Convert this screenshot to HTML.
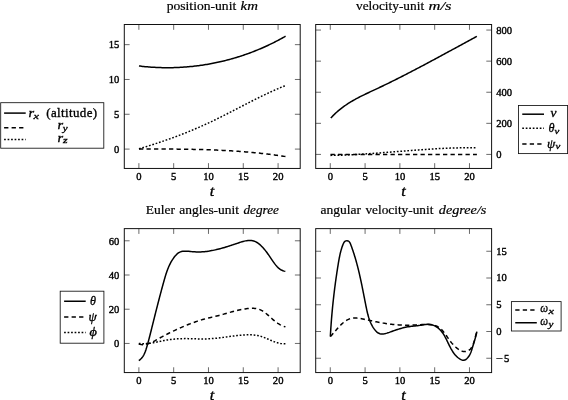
<!DOCTYPE html>
<html><head><meta charset="utf-8"><title>figure</title>
<style>html,body{margin:0;padding:0;background:#fff}svg{display:block;will-change:transform}text{font-family:"Liberation Serif",serif;fill:#000;stroke:#000;stroke-width:0.38px}.tk{font-size:10.3px}.tt{font-size:12.6px;stroke-width:0.2px}.it{font-style:italic}.lg{font-size:13px;stroke-width:0.33px}.tl{font-size:13.6px;stroke-width:0.3px}.sub{font-size:8.9px;stroke-width:0.32px}</style></head><body>
<svg width="568" height="400" viewBox="0 0 568 400">
<rect width="568" height="400" fill="#fff"/>
<text class="tk" x="136.33" y="179.85" textLength="5.30" lengthAdjust="spacingAndGlyphs">0</text>
<text class="tk" x="171.13" y="179.85" textLength="5.30" lengthAdjust="spacingAndGlyphs">5</text>
<text class="tk" x="203.28" y="179.85" textLength="10.60" lengthAdjust="spacingAndGlyphs">10</text>
<text class="tk" x="238.08" y="179.85" textLength="10.60" lengthAdjust="spacingAndGlyphs">15</text>
<text class="tk" x="272.88" y="179.85" textLength="10.60" lengthAdjust="spacingAndGlyphs">20</text>
<text class="tk" x="114.10" y="152.60" textLength="5.30" lengthAdjust="spacingAndGlyphs">0</text>
<text class="tk" x="114.10" y="117.78" textLength="5.30" lengthAdjust="spacingAndGlyphs">5</text>
<text class="tk" x="108.80" y="82.97" textLength="10.60" lengthAdjust="spacingAndGlyphs">10</text>
<text class="tk" x="108.80" y="48.15" textLength="10.60" lengthAdjust="spacingAndGlyphs">15</text>
<path d="M138.88 168.45 v-5.30 M138.88 24.50 v5.30 M173.68 168.45 v-5.30 M173.68 24.50 v5.30 M208.48 168.45 v-5.30 M208.48 24.50 v5.30 M243.28 168.45 v-5.30 M243.28 24.50 v5.30 M278.08 168.45 v-5.30 M278.08 24.50 v5.30 M124.30 149.10 h5.30 M300.20 149.10 h-5.30 M124.30 114.28 h5.30 M300.20 114.28 h-5.30 M124.30 79.47 h5.30 M300.20 79.47 h-5.30 M124.30 44.65 h5.30 M300.20 44.65 h-5.30" stroke="#5a5a5a" stroke-width="0.90" fill="none"/>
<rect x="124.30" y="24.50" width="175.90" height="143.95" fill="none" stroke="#111" stroke-width="1.00"/>
<text class="tl it" x="209.75" y="195.80" textLength="4.5" lengthAdjust="spacingAndGlyphs">t</text>
<text class="tk" x="327.73" y="179.85" textLength="5.30" lengthAdjust="spacingAndGlyphs">0</text>
<text class="tk" x="362.53" y="179.85" textLength="5.30" lengthAdjust="spacingAndGlyphs">5</text>
<text class="tk" x="394.68" y="179.85" textLength="10.60" lengthAdjust="spacingAndGlyphs">10</text>
<text class="tk" x="429.48" y="179.85" textLength="10.60" lengthAdjust="spacingAndGlyphs">15</text>
<text class="tk" x="464.28" y="179.85" textLength="10.60" lengthAdjust="spacingAndGlyphs">20</text>
<text class="tk" x="496.20" y="157.92" textLength="5.30" lengthAdjust="spacingAndGlyphs">0</text>
<text class="tk" x="496.20" y="126.83" textLength="15.90" lengthAdjust="spacingAndGlyphs">200</text>
<text class="tk" x="496.20" y="95.74" textLength="15.90" lengthAdjust="spacingAndGlyphs">400</text>
<text class="tk" x="496.20" y="64.65" textLength="15.90" lengthAdjust="spacingAndGlyphs">600</text>
<text class="tk" x="496.20" y="33.56" textLength="15.90" lengthAdjust="spacingAndGlyphs">800</text>
<path d="M330.28 168.45 v-5.30 M330.28 24.50 v5.30 M365.08 168.45 v-5.30 M365.08 24.50 v5.30 M399.88 168.45 v-5.30 M399.88 24.50 v5.30 M434.68 168.45 v-5.30 M434.68 24.50 v5.30 M469.48 168.45 v-5.30 M469.48 24.50 v5.30 M315.70 154.42 h5.30 M491.60 154.42 h-5.30 M315.70 123.33 h5.30 M491.60 123.33 h-5.30 M315.70 92.24 h5.30 M491.60 92.24 h-5.30 M315.70 61.15 h5.30 M491.60 61.15 h-5.30 M315.70 30.06 h5.30 M491.60 30.06 h-5.30" stroke="#5a5a5a" stroke-width="0.90" fill="none"/>
<rect x="315.70" y="24.50" width="175.90" height="143.95" fill="none" stroke="#111" stroke-width="1.00"/>
<text class="tl it" x="401.15" y="195.80" textLength="4.5" lengthAdjust="spacingAndGlyphs">t</text>
<text class="tk" x="136.33" y="383.97" textLength="5.30" lengthAdjust="spacingAndGlyphs">0</text>
<text class="tk" x="171.13" y="383.97" textLength="5.30" lengthAdjust="spacingAndGlyphs">5</text>
<text class="tk" x="203.28" y="383.97" textLength="10.60" lengthAdjust="spacingAndGlyphs">10</text>
<text class="tk" x="238.08" y="383.97" textLength="10.60" lengthAdjust="spacingAndGlyphs">15</text>
<text class="tk" x="272.88" y="383.97" textLength="10.60" lengthAdjust="spacingAndGlyphs">20</text>
<text class="tk" x="114.10" y="347.45" textLength="5.30" lengthAdjust="spacingAndGlyphs">0</text>
<text class="tk" x="108.80" y="313.23" textLength="10.60" lengthAdjust="spacingAndGlyphs">20</text>
<text class="tk" x="108.80" y="279.01" textLength="10.60" lengthAdjust="spacingAndGlyphs">40</text>
<text class="tk" x="108.80" y="244.79" textLength="10.60" lengthAdjust="spacingAndGlyphs">60</text>
<path d="M138.88 372.57 v-5.30 M138.88 228.62 v5.30 M173.68 372.57 v-5.30 M173.68 228.62 v5.30 M208.48 372.57 v-5.30 M208.48 228.62 v5.30 M243.28 372.57 v-5.30 M243.28 228.62 v5.30 M278.08 372.57 v-5.30 M278.08 228.62 v5.30 M124.30 343.45 h5.30 M300.20 343.45 h-5.30 M124.30 309.23 h5.30 M300.20 309.23 h-5.30 M124.30 275.01 h5.30 M300.20 275.01 h-5.30 M124.30 240.79 h5.30 M300.20 240.79 h-5.30" stroke="#5a5a5a" stroke-width="0.90" fill="none"/>
<rect x="124.30" y="228.62" width="175.90" height="143.95" fill="none" stroke="#111" stroke-width="1.00"/>
<text class="tl it" x="209.75" y="399.92" textLength="4.5" lengthAdjust="spacingAndGlyphs">t</text>
<text class="tk" x="327.73" y="383.97" textLength="5.30" lengthAdjust="spacingAndGlyphs">0</text>
<text class="tk" x="362.53" y="383.97" textLength="5.30" lengthAdjust="spacingAndGlyphs">5</text>
<text class="tk" x="394.68" y="383.97" textLength="10.60" lengthAdjust="spacingAndGlyphs">10</text>
<text class="tk" x="429.48" y="383.97" textLength="10.60" lengthAdjust="spacingAndGlyphs">15</text>
<text class="tk" x="464.28" y="383.97" textLength="10.60" lengthAdjust="spacingAndGlyphs">20</text>
<text class="tk" x="496.20" y="361.50" textLength="6.9" lengthAdjust="spacingAndGlyphs">−</text>
<text class="tk" x="504.00" y="361.50" textLength="5.30" lengthAdjust="spacingAndGlyphs">5</text>
<text class="tk" x="496.20" y="334.75" textLength="5.30" lengthAdjust="spacingAndGlyphs">0</text>
<text class="tk" x="496.20" y="308.00" textLength="5.30" lengthAdjust="spacingAndGlyphs">5</text>
<text class="tk" x="496.20" y="281.25" textLength="10.60" lengthAdjust="spacingAndGlyphs">10</text>
<text class="tk" x="496.20" y="254.50" textLength="10.60" lengthAdjust="spacingAndGlyphs">15</text>
<path d="M330.28 372.57 v-5.30 M330.28 228.62 v5.30 M365.08 372.57 v-5.30 M365.08 228.62 v5.30 M399.88 372.57 v-5.30 M399.88 228.62 v5.30 M434.68 372.57 v-5.30 M434.68 228.62 v5.30 M469.48 372.57 v-5.30 M469.48 228.62 v5.30 M315.70 358.25 h5.30 M491.60 358.25 h-5.30 M315.70 331.50 h5.30 M491.60 331.50 h-5.30 M315.70 304.75 h5.30 M491.60 304.75 h-5.30 M315.70 278.00 h5.30 M491.60 278.00 h-5.30 M315.70 251.25 h5.30 M491.60 251.25 h-5.30" stroke="#5a5a5a" stroke-width="0.90" fill="none"/>
<rect x="315.70" y="228.62" width="175.90" height="143.95" fill="none" stroke="#111" stroke-width="1.00"/>
<text class="tl it" x="401.15" y="399.92" textLength="4.5" lengthAdjust="spacingAndGlyphs">t</text>
<path d="M138.98 65.96 L140.19 66.11 L141.41 66.25 L142.62 66.38 L143.84 66.51 L145.05 66.63 L146.27 66.74 L147.48 66.85 L148.70 66.95 L149.91 67.05 L151.13 67.13 L152.35 67.22 L153.57 67.29 L154.78 67.36 L156.00 67.42 L157.22 67.48 L158.44 67.53 L159.66 67.57 L160.87 67.61 L162.09 67.64 L163.31 67.67 L164.53 67.68 L165.75 67.70 L166.96 67.70 L168.18 67.70 L169.40 67.70 L170.62 67.68 L171.84 67.66 L173.05 67.64 L174.27 67.60 L175.49 67.57 L176.70 67.52 L177.92 67.47 L179.13 67.41 L180.35 67.35 L181.56 67.28 L182.78 67.21 L183.99 67.12 L185.21 67.04 L186.42 66.94 L187.63 66.84 L188.84 66.73 L190.05 66.62 L191.27 66.50 L192.48 66.38 L193.68 66.24 L194.89 66.11 L196.10 65.96 L197.31 65.81 L198.51 65.66 L199.72 65.49 L200.92 65.32 L202.13 65.15 L203.33 64.97 L204.53 64.78 L205.73 64.59 L206.93 64.39 L208.13 64.18 L209.32 63.97 L210.52 63.75 L211.72 63.53 L212.91 63.30 L214.10 63.06 L215.29 62.82 L216.48 62.57 L217.67 62.32 L218.86 62.06 L220.05 61.79 L221.23 61.52 L222.42 61.24 L223.60 60.96 L224.78 60.67 L225.96 60.37 L227.13 60.07 L228.31 59.76 L229.48 59.45 L230.66 59.13 L231.83 58.80 L233.00 58.47 L234.17 58.13 L235.33 57.78 L236.50 57.43 L237.66 57.08 L238.82 56.71 L239.98 56.34 L241.14 55.97 L242.29 55.59 L243.45 55.20 L244.60 54.81 L245.75 54.41 L246.89 54.01 L248.04 53.60 L249.18 53.18 L250.32 52.76 L251.46 52.33 L252.60 51.90 L253.74 51.46 L254.87 51.01 L256.00 50.56 L257.13 50.11 L258.25 49.64 L259.38 49.17 L260.50 48.70 L261.62 48.22 L262.73 47.73 L263.85 47.24 L264.96 46.74 L266.07 46.24 L267.17 45.73 L268.28 45.21 L269.38 44.69 L270.48 44.16 L271.58 43.63 L272.67 43.09 L273.76 42.55 L274.85 41.99 L275.93 41.44 L277.02 40.88 L278.10 40.31 L279.17 39.73 L280.25 39.16 L281.32 38.57 L282.39 37.98 L283.45 37.38 L284.52 36.78 L285.57 36.17" fill="none" stroke="#000" stroke-width="1.50"/>
<path d="M139.01 148.97 L140.22 148.97 L141.43 148.97 L142.64 148.98 L143.85 148.98 L145.07 148.98 L146.28 148.98 L147.49 148.98 L148.70 148.99 L149.92 148.99 L151.13 148.99 L152.34 148.99 L153.56 148.99 L154.77 149.00 L155.98 149.00 L157.20 149.00 L158.41 149.01 L159.62 149.01 L160.84 149.02 L162.05 149.02 L163.26 149.03 L164.48 149.03 L165.69 149.04 L166.91 149.04 L168.12 149.05 L169.33 149.06 L170.55 149.07 L171.76 149.08 L172.98 149.09 L174.19 149.10 L175.40 149.11 L176.62 149.12 L177.83 149.13 L179.05 149.15 L180.26 149.16 L181.47 149.18 L182.69 149.19 L183.90 149.21 L185.12 149.23 L186.33 149.25 L187.55 149.27 L188.76 149.29 L189.97 149.31 L191.19 149.33 L192.40 149.35 L193.62 149.38 L194.83 149.41 L196.04 149.43 L197.26 149.46 L198.47 149.49 L199.69 149.52 L200.90 149.55 L202.11 149.59 L203.33 149.62 L204.54 149.66 L205.75 149.70 L206.97 149.73 L208.18 149.78 L209.39 149.82 L210.61 149.86 L211.82 149.91 L213.03 149.95 L214.25 150.00 L215.46 150.05 L216.67 150.10 L217.89 150.15 L219.10 150.21 L220.31 150.26 L221.52 150.32 L222.73 150.38 L223.95 150.44 L225.16 150.51 L226.37 150.57 L227.58 150.64 L228.79 150.71 L230.01 150.78 L231.22 150.85 L232.43 150.92 L233.64 151.00 L234.85 151.08 L236.06 151.16 L237.27 151.24 L238.48 151.33 L239.69 151.42 L240.90 151.50 L242.11 151.60 L243.32 151.69 L244.53 151.79 L245.74 151.88 L246.95 151.98 L248.16 152.09 L249.37 152.19 L250.57 152.30 L251.78 152.41 L252.99 152.52 L254.20 152.64 L255.40 152.75 L256.61 152.87 L257.82 153.00 L259.03 153.12 L260.23 153.25 L261.44 153.38 L262.64 153.51 L263.85 153.65 L265.06 153.78 L266.26 153.93 L267.47 154.07 L268.67 154.21 L269.88 154.36 L271.08 154.52 L272.28 154.67 L273.49 154.83 L274.69 154.99 L275.89 155.15 L277.10 155.32 L278.30 155.49 L279.50 155.66 L280.70 155.84 L281.91 156.02 L283.11 156.20 L284.31 156.38 L285.51 156.57" fill="none" stroke="#000" stroke-width="1.50" stroke-dasharray="4.3 3.2"/>
<path d="M138.95 148.80 L140.11 148.45 L141.28 148.11 L142.44 147.76 L143.60 147.41 L144.76 147.06 L145.92 146.70 L147.08 146.35 L148.24 145.99 L149.40 145.62 L150.56 145.26 L151.72 144.89 L152.87 144.52 L154.03 144.15 L155.18 143.78 L156.33 143.40 L157.49 143.02 L158.64 142.64 L159.79 142.26 L160.94 141.87 L162.09 141.48 L163.23 141.09 L164.38 140.70 L165.53 140.30 L166.67 139.90 L167.81 139.50 L168.96 139.09 L170.10 138.69 L171.24 138.28 L172.38 137.86 L173.52 137.45 L174.65 137.03 L175.79 136.61 L176.92 136.19 L178.06 135.76 L179.19 135.33 L180.32 134.90 L181.45 134.46 L182.58 134.02 L183.71 133.58 L184.83 133.14 L185.96 132.69 L187.08 132.24 L188.20 131.79 L189.33 131.34 L190.45 130.88 L191.56 130.42 L192.68 129.95 L193.80 129.48 L194.91 129.01 L196.03 128.54 L197.14 128.06 L198.25 127.58 L199.36 127.10 L200.47 126.61 L201.57 126.12 L202.68 125.63 L203.78 125.14 L204.88 124.64 L205.98 124.14 L207.08 123.63 L208.18 123.12 L209.28 122.61 L210.37 122.10 L211.46 121.58 L212.56 121.06 L213.65 120.53 L214.74 120.01 L215.82 119.48 L216.91 118.94 L218.00 118.41 L219.08 117.87 L220.17 117.34 L221.25 116.80 L222.33 116.25 L223.41 115.71 L224.49 115.16 L225.57 114.61 L226.65 114.07 L227.73 113.52 L228.81 112.96 L229.88 112.41 L230.96 111.86 L232.04 111.30 L233.11 110.75 L234.19 110.19 L235.27 109.64 L236.34 109.08 L237.42 108.52 L238.49 107.97 L239.57 107.41 L240.64 106.85 L241.72 106.30 L242.80 105.74 L243.87 105.18 L244.95 104.63 L246.03 104.07 L247.10 103.52 L248.18 102.97 L249.26 102.42 L250.34 101.87 L251.42 101.32 L252.50 100.77 L253.58 100.22 L254.66 99.68 L255.74 99.13 L256.82 98.59 L257.91 98.05 L258.99 97.52 L260.08 96.98 L261.17 96.45 L262.26 95.92 L263.35 95.39 L264.44 94.87 L265.53 94.35 L266.62 93.83 L267.72 93.31 L268.82 92.80 L269.91 92.29 L271.01 91.79 L272.12 91.28 L273.22 90.78 L274.32 90.29 L275.43 89.80 L276.54 89.31 L277.65 88.83 L278.76 88.35 L279.88 87.88 L281.00 87.41 L282.12 86.94 L283.24 86.48 L284.36 86.03 L285.49 85.58" fill="none" stroke="#000" stroke-width="1.50" stroke-dasharray="1.7 1.8"/>
<path d="M330.77 118.08 L331.62 117.16 L332.48 116.26 L333.35 115.37 L334.23 114.50 L335.13 113.65 L336.03 112.81 L336.94 111.99 L337.87 111.18 L338.80 110.39 L339.74 109.62 L340.69 108.86 L341.65 108.11 L342.61 107.37 L343.59 106.65 L344.57 105.95 L345.57 105.25 L346.57 104.57 L347.57 103.90 L348.59 103.24 L349.61 102.60 L350.64 101.97 L351.67 101.34 L352.72 100.73 L353.77 100.13 L354.82 99.54 L355.88 98.95 L356.95 98.38 L358.02 97.81 L359.09 97.25 L360.17 96.70 L361.25 96.15 L362.34 95.61 L363.43 95.08 L364.52 94.55 L365.62 94.02 L366.71 93.50 L367.81 92.98 L368.92 92.46 L370.02 91.94 L371.12 91.43 L372.22 90.91 L373.33 90.40 L374.43 89.88 L375.53 89.37 L376.63 88.85 L377.73 88.33 L378.83 87.81 L379.93 87.29 L381.03 86.76 L382.13 86.23 L383.23 85.71 L384.32 85.18 L385.42 84.65 L386.51 84.11 L387.61 83.58 L388.70 83.05 L389.79 82.51 L390.88 81.97 L391.97 81.43 L393.06 80.89 L394.15 80.35 L395.24 79.81 L396.33 79.26 L397.42 78.71 L398.50 78.17 L399.59 77.62 L400.68 77.07 L401.76 76.52 L402.85 75.97 L403.93 75.41 L405.01 74.86 L406.10 74.30 L407.18 73.75 L408.26 73.19 L409.34 72.63 L410.42 72.07 L411.50 71.51 L412.58 70.95 L413.66 70.39 L414.74 69.82 L415.82 69.26 L416.89 68.70 L417.97 68.13 L419.05 67.56 L420.12 67.00 L421.20 66.43 L422.28 65.86 L423.35 65.29 L424.43 64.72 L425.50 64.15 L426.57 63.57 L427.65 63.00 L428.72 62.43 L429.80 61.86 L430.87 61.28 L431.94 60.71 L433.01 60.13 L434.09 59.56 L435.16 58.98 L436.23 58.40 L437.30 57.83 L438.37 57.25 L439.44 56.67 L440.51 56.09 L441.58 55.51 L442.65 54.93 L443.72 54.35 L444.79 53.77 L445.86 53.20 L446.93 52.61 L448.00 52.03 L449.07 51.45 L450.14 50.87 L451.21 50.29 L452.28 49.71 L453.35 49.13 L454.42 48.55 L455.49 47.97 L456.56 47.39 L457.63 46.81 L458.70 46.22 L459.76 45.64 L460.83 45.06 L461.90 44.48 L462.97 43.90 L464.04 43.32 L465.11 42.74 L466.18 42.16 L467.25 41.58 L468.32 41.00 L469.39 40.42 L470.46 39.84 L471.53 39.26 L472.60 38.68 L473.67 38.10 L474.74 37.52 L475.81 36.94 L476.88 36.37" fill="none" stroke="#000" stroke-width="1.50"/>
<path d="M330.50 155.38 L331.71 155.36 L332.92 155.34 L334.14 155.32 L335.35 155.29 L336.56 155.27 L337.77 155.24 L338.98 155.21 L340.19 155.17 L341.41 155.13 L342.62 155.09 L343.83 155.05 L345.04 155.00 L346.25 154.96 L347.46 154.91 L348.67 154.86 L349.88 154.80 L351.09 154.75 L352.30 154.69 L353.51 154.63 L354.72 154.56 L355.93 154.50 L357.14 154.43 L358.35 154.37 L359.56 154.30 L360.77 154.23 L361.98 154.15 L363.19 154.08 L364.40 154.00 L365.61 153.92 L366.82 153.85 L368.03 153.77 L369.24 153.68 L370.45 153.60 L371.66 153.52 L372.86 153.43 L374.07 153.35 L375.28 153.26 L376.49 153.17 L377.70 153.08 L378.91 152.99 L380.12 152.90 L381.33 152.81 L382.53 152.72 L383.74 152.62 L384.95 152.53 L386.16 152.44 L387.37 152.34 L388.58 152.25 L389.78 152.15 L390.99 152.05 L392.20 151.96 L393.41 151.86 L394.62 151.77 L395.83 151.67 L397.03 151.57 L398.24 151.48 L399.45 151.38 L400.66 151.28 L401.87 151.19 L403.07 151.09 L404.28 151.00 L405.49 150.90 L406.70 150.80 L407.91 150.71 L409.12 150.62 L410.32 150.52 L411.53 150.43 L412.74 150.34 L413.95 150.25 L415.16 150.15 L416.37 150.06 L417.58 149.98 L418.78 149.89 L419.99 149.80 L421.20 149.71 L422.41 149.63 L423.62 149.55 L424.83 149.46 L426.04 149.38 L427.25 149.30 L428.46 149.22 L429.66 149.14 L430.87 149.07 L432.08 148.99 L433.29 148.92 L434.50 148.85 L435.71 148.78 L436.92 148.71 L438.13 148.65 L439.34 148.58 L440.55 148.52 L441.76 148.46 L442.97 148.40 L444.18 148.35 L445.39 148.29 L446.60 148.24 L447.81 148.19 L449.02 148.14 L450.23 148.10 L451.44 148.06 L452.66 148.02 L453.87 147.98 L455.08 147.94 L456.29 147.91 L457.50 147.88 L458.71 147.85 L459.92 147.83 L461.14 147.81 L462.35 147.79 L463.56 147.77 L464.77 147.76 L465.99 147.75 L467.20 147.75 L468.41 147.74 L469.62 147.74 L470.84 147.75 L472.05 147.75 L473.26 147.76 L474.48 147.78 L475.69 147.79 L476.91 147.81" fill="none" stroke="#000" stroke-width="1.50" stroke-dasharray="1.7 1.8"/>
<path d="M330.50 154.40 L476.90 154.40" fill="none" stroke="#000" stroke-width="1.50" stroke-dasharray="4.3 3.2"/>
<path d="M138.84 360.66 L139.82 359.90 L140.72 359.08 L141.54 358.21 L142.29 357.28 L142.96 356.30 L143.58 355.28 L144.14 354.23 L144.64 353.14 L145.11 352.02 L145.54 350.88 L145.94 349.72 L146.31 348.56 L146.67 347.38 L147.01 346.20 L147.35 345.03 L147.68 343.85 L148.01 342.68 L148.33 341.50 L148.64 340.33 L148.96 339.16 L149.26 337.98 L149.57 336.81 L149.87 335.64 L150.16 334.47 L150.46 333.30 L150.75 332.13 L151.05 330.96 L151.34 329.78 L151.63 328.61 L151.92 327.44 L152.21 326.27 L152.50 325.10 L152.80 323.92 L153.09 322.75 L153.38 321.58 L153.67 320.40 L153.97 319.23 L154.26 318.06 L154.55 316.88 L154.85 315.71 L155.14 314.54 L155.44 313.36 L155.73 312.19 L156.03 311.01 L156.33 309.84 L156.63 308.67 L156.93 307.49 L157.22 306.32 L157.53 305.14 L157.83 303.97 L158.13 302.80 L158.43 301.62 L158.74 300.45 L159.04 299.28 L159.35 298.10 L159.65 296.93 L159.96 295.76 L160.27 294.59 L160.58 293.41 L160.90 292.24 L161.21 291.07 L161.52 289.90 L161.84 288.73 L162.16 287.56 L162.48 286.39 L162.80 285.22 L163.12 284.05 L163.44 282.89 L163.77 281.72 L164.09 280.55 L164.42 279.39 L164.76 278.22 L165.10 277.06 L165.44 275.90 L165.80 274.74 L166.17 273.59 L166.55 272.45 L166.94 271.31 L167.35 270.17 L167.78 269.05 L168.23 267.93 L168.69 266.82 L169.18 265.71 L169.70 264.62 L170.24 263.54 L170.81 262.47 L171.40 261.41 L172.03 260.36 L172.69 259.33 L173.38 258.31 L174.11 257.30 L174.88 256.32 L175.69 255.38 L176.54 254.49 L177.44 253.68 L178.38 252.96 L179.38 252.35 L180.43 251.86 L181.53 251.51 L182.69 251.28 L183.88 251.17 L185.10 251.13 L186.34 251.17 L187.60 251.25 L188.85 251.36 L190.10 251.48 L191.33 251.60 L192.54 251.69 L193.75 251.78 L194.94 251.85 L196.13 251.90 L197.31 251.94 L198.49 251.95 L199.68 251.94 L200.87 251.91 L202.06 251.85 L203.26 251.77 L204.47 251.67 L205.68 251.54 L206.89 251.39 L208.11 251.22 L209.32 251.04 L210.54 250.83 L211.75 250.61 L212.96 250.37 L214.16 250.12 L215.36 249.86 L216.56 249.58 L217.74 249.30 L218.92 249.00 L220.08 248.70 L221.24 248.39 L222.39 248.07 L223.53 247.74 L224.66 247.41 L225.80 247.07 L226.92 246.72 L228.05 246.37 L229.18 246.01 L230.30 245.64 L231.44 245.27 L232.57 244.90 L233.71 244.52 L234.86 244.13 L236.02 243.74 L237.19 243.35 L238.37 242.95 L239.56 242.55 L240.76 242.16 L241.97 241.79 L243.17 241.45 L244.39 241.13 L245.59 240.87 L246.80 240.65 L247.99 240.50 L249.18 240.43 L250.35 240.43 L251.50 240.52 L252.64 240.71 L253.75 241.01 L254.84 241.42 L255.91 241.92 L256.95 242.50 L257.96 243.17 L258.95 243.90 L259.91 244.69 L260.84 245.53 L261.75 246.41 L262.62 247.32 L263.47 248.25 L264.28 249.20 L265.06 250.14 L265.81 251.09 L266.54 252.04 L267.25 252.99 L267.93 253.95 L268.61 254.91 L269.28 255.88 L269.94 256.85 L270.61 257.84 L271.27 258.84 L271.95 259.85 L272.63 260.87 L273.34 261.89 L274.06 262.90 L274.80 263.90 L275.57 264.88 L276.37 265.82 L277.19 266.72 L278.06 267.58 L278.96 268.37 L279.91 269.09 L280.89 269.74 L281.93 270.30 L283.02 270.76 L284.17 271.12 L285.37 271.37" fill="none" stroke="#000" stroke-width="1.50"/>
<path d="M138.75 343.99 L140.00 344.33 L141.22 344.55 L142.42 344.66 L143.61 344.66 L144.79 344.57 L145.95 344.40 L147.10 344.14 L148.24 343.81 L149.37 343.42 L150.48 342.97 L151.59 342.48 L152.69 341.95 L153.79 341.38 L154.88 340.79 L155.96 340.18 L157.05 339.57 L158.12 338.96 L159.20 338.35 L160.28 337.75 L161.36 337.16 L162.43 336.58 L163.51 336.00 L164.58 335.43 L165.66 334.87 L166.74 334.31 L167.81 333.76 L168.89 333.22 L169.97 332.68 L171.05 332.15 L172.14 331.62 L173.23 331.09 L174.32 330.58 L175.41 330.06 L176.51 329.55 L177.61 329.05 L178.71 328.55 L179.82 328.06 L180.93 327.57 L182.04 327.08 L183.16 326.60 L184.28 326.13 L185.41 325.66 L186.53 325.20 L187.67 324.74 L188.80 324.30 L189.94 323.86 L191.08 323.42 L192.22 323.00 L193.36 322.58 L194.51 322.17 L195.66 321.77 L196.82 321.38 L197.97 320.99 L199.13 320.62 L200.29 320.25 L201.45 319.90 L202.62 319.55 L203.79 319.22 L204.95 318.90 L206.13 318.58 L207.30 318.28 L208.47 317.98 L209.65 317.69 L210.82 317.41 L212.00 317.12 L213.18 316.84 L214.35 316.56 L215.53 316.28 L216.71 315.99 L217.89 315.70 L219.06 315.40 L220.24 315.09 L221.41 314.78 L222.58 314.46 L223.75 314.13 L224.93 313.80 L226.10 313.47 L227.27 313.13 L228.44 312.80 L229.62 312.47 L230.79 312.14 L231.97 311.81 L233.15 311.50 L234.33 311.18 L235.51 310.88 L236.69 310.58 L237.88 310.30 L239.07 310.03 L240.26 309.77 L241.45 309.53 L242.65 309.30 L243.86 309.09 L245.07 308.90 L246.28 308.73 L247.49 308.59 L248.71 308.46 L249.94 308.37 L251.16 308.31 L252.37 308.29 L253.58 308.32 L254.77 308.40 L255.94 308.55 L257.10 308.76 L258.23 309.05 L259.33 309.42 L260.41 309.86 L261.46 310.38 L262.48 310.96 L263.49 311.60 L264.48 312.28 L265.45 313.02 L266.42 313.78 L267.37 314.58 L268.31 315.40 L269.24 316.24 L270.18 317.08 L271.11 317.93 L272.04 318.77 L272.98 319.60 L273.93 320.41 L274.88 321.19 L275.84 321.94 L276.82 322.66 L277.82 323.33 L278.83 323.96 L279.86 324.55 L280.92 325.11 L282.00 325.62 L283.11 326.09 L284.25 326.52 L285.42 326.91" fill="none" stroke="#000" stroke-width="1.50" stroke-dasharray="4.3 3.2"/>
<path d="M138.80 343.38 L140.03 343.52 L141.26 343.62 L142.48 343.68 L143.70 343.70 L144.92 343.68 L146.14 343.62 L147.35 343.54 L148.56 343.42 L149.76 343.28 L150.97 343.12 L152.17 342.93 L153.37 342.73 L154.57 342.51 L155.77 342.28 L156.97 342.04 L158.16 341.79 L159.36 341.54 L160.56 341.29 L161.75 341.04 L162.95 340.79 L164.15 340.55 L165.35 340.32 L166.55 340.10 L167.75 339.90 L168.95 339.71 L170.16 339.54 L171.36 339.39 L172.57 339.25 L173.78 339.13 L174.99 339.02 L176.20 338.93 L177.41 338.85 L178.63 338.78 L179.84 338.72 L181.05 338.68 L182.27 338.65 L183.49 338.63 L184.70 338.62 L185.92 338.62 L187.14 338.62 L188.36 338.64 L189.58 338.66 L190.80 338.69 L192.02 338.72 L193.24 338.76 L194.45 338.79 L195.67 338.83 L196.89 338.86 L198.11 338.89 L199.33 338.92 L200.55 338.94 L201.77 338.95 L202.98 338.95 L204.20 338.95 L205.42 338.93 L206.63 338.89 L207.85 338.85 L209.06 338.79 L210.28 338.73 L211.49 338.65 L212.71 338.56 L213.92 338.46 L215.13 338.35 L216.34 338.24 L217.56 338.11 L218.77 337.98 L219.98 337.83 L221.19 337.69 L222.41 337.53 L223.62 337.37 L224.83 337.20 L226.04 337.04 L227.25 336.87 L228.47 336.70 L229.68 336.53 L230.89 336.36 L232.10 336.20 L233.32 336.04 L234.53 335.88 L235.74 335.73 L236.95 335.59 L238.17 335.46 L239.38 335.33 L240.59 335.22 L241.81 335.12 L243.02 335.03 L244.23 334.95 L245.45 334.89 L246.66 334.85 L247.88 334.82 L249.09 334.81 L250.30 334.82 L251.52 334.86 L252.73 334.92 L253.93 335.02 L255.13 335.14 L256.32 335.31 L257.51 335.51 L258.69 335.75 L259.86 336.03 L261.03 336.36 L262.18 336.73 L263.32 337.15 L264.46 337.59 L265.60 338.06 L266.73 338.54 L267.85 339.04 L268.98 339.54 L270.11 340.03 L271.24 340.52 L272.37 340.99 L273.51 341.43 L274.65 341.85 L275.80 342.24 L276.96 342.59 L278.13 342.91 L279.31 343.19 L280.50 343.43 L281.71 343.62 L282.93 343.76 L284.16 343.84 L285.40 343.87" fill="none" stroke="#000" stroke-width="1.50" stroke-dasharray="1.7 1.8"/>
<path d="M330.42 336.56 L331.14 335.79 L331.87 334.97 L332.62 334.12 L333.38 333.23 L334.16 332.31 L334.96 331.37 L335.77 330.42 L336.60 329.45 L337.44 328.49 L338.30 327.53 L339.18 326.58 L340.07 325.65 L340.98 324.75 L341.91 323.87 L342.86 323.03 L343.82 322.24 L344.80 321.50 L345.80 320.81 L346.83 320.19 L347.87 319.64 L348.93 319.16 L350.00 318.77 L351.10 318.47 L352.22 318.25 L353.36 318.11 L354.51 318.04 L355.67 318.03 L356.85 318.08 L358.04 318.19 L359.23 318.33 L360.43 318.52 L361.64 318.74 L362.86 318.98 L364.07 319.23 L365.29 319.50 L366.51 319.78 L367.72 320.05 L368.93 320.32 L370.14 320.58 L371.35 320.84 L372.56 321.10 L373.76 321.34 L374.96 321.59 L376.16 321.83 L377.36 322.06 L378.56 322.28 L379.76 322.50 L380.95 322.71 L382.15 322.92 L383.34 323.12 L384.53 323.31 L385.73 323.49 L386.92 323.67 L388.11 323.84 L389.31 324.00 L390.50 324.15 L391.69 324.29 L392.88 324.42 L394.08 324.54 L395.27 324.66 L396.47 324.76 L397.67 324.85 L398.86 324.93 L400.06 325.01 L401.26 325.07 L402.47 325.12 L403.67 325.16 L404.88 325.18 L406.08 325.20 L407.29 325.20 L408.51 325.19 L409.72 325.17 L410.94 325.13 L412.16 325.09 L413.38 325.03 L414.61 324.97 L415.83 324.91 L417.06 324.84 L418.29 324.78 L419.51 324.72 L420.74 324.67 L421.97 324.62 L423.20 324.59 L424.42 324.56 L425.65 324.56 L426.87 324.57 L428.09 324.60 L429.31 324.66 L430.52 324.75 L431.72 324.88 L432.90 325.06 L434.06 325.30 L435.19 325.61 L436.28 326.00 L437.33 326.47 L438.35 327.04 L439.31 327.69 L440.24 328.42 L441.14 329.22 L442.00 330.09 L442.83 331.00 L443.63 331.96 L444.41 332.95 L445.17 333.97 L445.91 335.00 L446.64 336.04 L447.35 337.08 L448.06 338.11 L448.76 339.11 L449.46 340.09 L450.17 341.05 L450.89 341.98 L451.63 342.89 L452.40 343.79 L453.21 344.68 L454.06 345.56 L454.96 346.44 L455.91 347.31 L456.90 348.14 L457.93 348.92 L458.99 349.64 L460.08 350.27 L461.18 350.80 L462.29 351.20 L463.41 351.47 L464.53 351.59 L465.64 351.53 L466.73 351.31 L467.78 350.92 L468.76 350.39 L469.66 349.72 L470.47 348.91 L471.20 348.00 L471.86 346.99 L472.45 345.90 L472.98 344.74 L473.46 343.53 L473.89 342.27 L474.29 341.00 L474.65 339.71 L474.99 338.44 L475.31 337.18 L475.61 335.96 L475.92 334.79 L476.23 333.68 L476.54 332.65 L476.88 331.72" fill="none" stroke="#000" stroke-width="1.50" stroke-dasharray="4.3 3.2"/>
<path d="M330.34 336.59 L330.40 335.39 L330.47 334.19 L330.54 332.99 L330.61 331.78 L330.69 330.58 L330.76 329.38 L330.84 328.17 L330.92 326.97 L331.01 325.76 L331.09 324.56 L331.18 323.36 L331.27 322.15 L331.36 320.95 L331.46 319.74 L331.55 318.54 L331.65 317.33 L331.75 316.13 L331.86 314.92 L331.96 313.72 L332.07 312.51 L332.18 311.31 L332.29 310.10 L332.41 308.90 L332.52 307.69 L332.64 306.49 L332.76 305.28 L332.89 304.08 L333.01 302.88 L333.14 301.67 L333.27 300.47 L333.40 299.27 L333.53 298.06 L333.67 296.86 L333.81 295.66 L333.95 294.46 L334.09 293.26 L334.23 292.06 L334.38 290.86 L334.53 289.66 L334.68 288.46 L334.83 287.26 L334.99 286.06 L335.15 284.86 L335.31 283.66 L335.47 282.47 L335.63 281.27 L335.80 280.07 L335.96 278.88 L336.13 277.68 L336.31 276.49 L336.48 275.30 L336.66 274.10 L336.84 272.91 L337.02 271.72 L337.20 270.53 L337.38 269.34 L337.57 268.15 L337.76 266.97 L337.95 265.78 L338.14 264.59 L338.34 263.41 L338.53 262.23 L338.73 261.04 L338.94 259.86 L339.16 258.68 L339.38 257.49 L339.62 256.31 L339.87 255.13 L340.13 253.95 L340.41 252.76 L340.71 251.58 L341.03 250.39 L341.38 249.20 L341.74 248.01 L342.14 246.82 L342.56 245.63 L343.01 244.44 L343.51 243.26 L344.11 242.20 L344.88 241.38 L345.87 240.87 L346.98 240.73 L348.08 240.93 L349.01 241.47 L349.71 242.31 L350.26 243.35 L350.71 244.50 L351.15 245.67 L351.58 246.83 L351.99 248.00 L352.40 249.16 L352.80 250.33 L353.20 251.49 L353.58 252.66 L353.96 253.83 L354.32 254.99 L354.69 256.16 L355.04 257.33 L355.39 258.50 L355.72 259.66 L356.06 260.83 L356.38 262.00 L356.70 263.17 L357.02 264.34 L357.33 265.51 L357.63 266.68 L357.93 267.85 L358.22 269.02 L358.51 270.19 L358.79 271.36 L359.07 272.53 L359.34 273.70 L359.61 274.88 L359.88 276.05 L360.14 277.22 L360.40 278.40 L360.65 279.57 L360.90 280.75 L361.15 281.92 L361.40 283.10 L361.65 284.28 L361.89 285.45 L362.13 286.63 L362.37 287.81 L362.60 288.99 L362.84 290.17 L363.07 291.35 L363.31 292.53 L363.54 293.72 L363.77 294.90 L364.00 296.08 L364.24 297.27 L364.47 298.45 L364.70 299.64 L364.93 300.83 L365.17 302.01 L365.40 303.20 L365.64 304.39 L365.87 305.58 L366.11 306.77 L366.36 307.96 L366.60 309.15 L366.86 310.34 L367.12 311.53 L367.40 312.71 L367.69 313.89 L367.99 315.07 L368.32 316.23 L368.66 317.39 L369.03 318.55 L369.42 319.69 L369.85 320.82 L370.30 321.94 L370.78 323.05 L371.30 324.15 L371.85 325.23 L372.45 326.30 L373.08 327.35 L373.76 328.38 L374.49 329.39 L375.26 330.36 L376.08 331.26 L376.95 332.06 L377.87 332.75 L378.85 333.29 L379.88 333.66 L380.96 333.88 L382.08 333.95 L383.24 333.89 L384.43 333.73 L385.64 333.47 L386.86 333.15 L388.09 332.76 L389.32 332.35 L390.54 331.91 L391.75 331.47 L392.94 331.04 L394.11 330.62 L395.26 330.22 L396.41 329.83 L397.55 329.45 L398.67 329.09 L399.80 328.75 L400.92 328.42 L402.05 328.11 L403.18 327.82 L404.31 327.55 L405.46 327.30 L406.61 327.07 L407.78 326.86 L408.96 326.68 L410.16 326.52 L411.36 326.36 L412.58 326.22 L413.80 326.09 L415.02 325.96 L416.25 325.82 L417.48 325.69 L418.71 325.54 L419.93 325.38 L421.15 325.21 L422.36 325.01 L423.57 324.80 L424.76 324.58 L425.95 324.39 L427.14 324.27 L428.33 324.24 L429.52 324.31 L430.71 324.50 L431.89 324.79 L433.04 325.17 L434.17 325.63 L435.27 326.17 L436.32 326.78 L437.33 327.44 L438.28 328.17 L439.17 328.94 L440.02 329.76 L440.82 330.62 L441.58 331.52 L442.30 332.45 L442.98 333.42 L443.63 334.42 L444.26 335.45 L444.86 336.50 L445.44 337.56 L446.00 338.65 L446.55 339.75 L447.09 340.85 L447.63 341.97 L448.16 343.09 L448.70 344.20 L449.24 345.32 L449.79 346.42 L450.36 347.52 L450.94 348.61 L451.54 349.67 L452.16 350.72 L452.82 351.75 L453.50 352.75 L454.22 353.71 L454.97 354.65 L455.76 355.55 L456.60 356.40 L457.48 357.22 L458.42 357.98 L459.40 358.70 L460.45 359.36 L461.54 359.92 L462.64 360.28 L463.74 360.31 L464.80 360.04 L465.82 359.50 L466.78 358.75 L467.67 357.84 L468.49 356.82 L469.21 355.75 L469.83 354.65 L470.37 353.54 L470.84 352.42 L471.25 351.30 L471.63 350.16 L471.99 349.02 L472.34 347.88 L472.70 346.73 L473.05 345.58 L473.41 344.43 L473.76 343.27 L474.11 342.12 L474.46 340.96 L474.80 339.80 L475.13 338.64 L475.46 337.47 L475.77 336.30 L476.08 335.13 L476.37 333.96 L476.64 332.78 L476.90 331.60" fill="none" stroke="#000" stroke-width="1.50"/>
<text class="tt" x="166.70" y="10.10" textLength="69.50" lengthAdjust="spacingAndGlyphs">position-unit</text>
<text class="tt it" x="240.60" y="10.10" textLength="17.30" lengthAdjust="spacingAndGlyphs">km</text>
<text class="tt" x="356.00" y="10.10" textLength="68.10" lengthAdjust="spacingAndGlyphs">velocity-unit</text>
<text class="tt it" x="428.50" y="10.10" textLength="22.90" lengthAdjust="spacingAndGlyphs">m/s</text>
<text class="tt" x="145.80" y="213.80" textLength="29.30" lengthAdjust="spacingAndGlyphs">Euler</text>
<text class="tt" x="179.30" y="213.80" textLength="59.70" lengthAdjust="spacingAndGlyphs">angles-unit</text>
<text class="tt it" x="243.40" y="213.80" textLength="35.50" lengthAdjust="spacingAndGlyphs">degree</text>
<text class="tt" x="320.60" y="213.80" textLength="40.50" lengthAdjust="spacingAndGlyphs">angular</text>
<text class="tt" x="365.40" y="213.80" textLength="68.00" lengthAdjust="spacingAndGlyphs">velocity-unit</text>
<text class="tt it" x="438.80" y="213.80" textLength="47.60" lengthAdjust="spacingAndGlyphs">degree/s</text>
<rect x="0.70" y="102.70" width="103.10" height="45.50" fill="#fff" stroke="#111" stroke-width="0.85"/>
<path d="M4.10 113.10 H25.70" stroke="#000" stroke-width="1.50" fill="none"/>
<path d="M4.10 127.70 H25.70" stroke="#000" stroke-width="1.50" stroke-dasharray="4.3 3.2" fill="none"/>
<path d="M4.10 139.60 H25.70" stroke="#000" stroke-width="1.50" stroke-dasharray="1.7 1.8" fill="none"/>
<text class="lg it" x="28.40" y="116.90" textLength="5.60" lengthAdjust="spacingAndGlyphs">r</text>
<text class="sub it" x="33.40" y="118.70" textLength="5.50" lengthAdjust="spacingAndGlyphs">x</text>
<text class="lg" x="46.3" y="116.9" textLength="50.8" lengthAdjust="spacing">(altitude)</text>
<text class="lg it" x="57.40" y="129.40" textLength="5.60" lengthAdjust="spacingAndGlyphs">r</text>
<text class="sub it" x="62.70" y="131.20" textLength="4.90" lengthAdjust="spacingAndGlyphs">y</text>
<text class="lg it" x="57.40" y="141.50" textLength="5.60" lengthAdjust="spacingAndGlyphs">r</text>
<text class="sub it" x="62.90" y="143.30" textLength="4.60" lengthAdjust="spacingAndGlyphs">z</text>
<rect x="518.50" y="105.50" width="49.10" height="48.10" fill="#fff" stroke="#111" stroke-width="0.85"/>
<path d="M522.25 114.20 H544.00" stroke="#000" stroke-width="1.50" fill="none"/>
<path d="M522.25 128.20 H544.00" stroke="#000" stroke-width="1.50" stroke-dasharray="1.7 1.8" fill="none"/>
<path d="M522.25 144.00 H544.00" stroke="#000" stroke-width="1.50" stroke-dasharray="4.3 3.2" fill="none"/>
<text class="lg it" x="550.60" y="117.20" textLength="6.00" lengthAdjust="spacingAndGlyphs">v</text>
<text class="lg it" x="548.60" y="132.20" textLength="6.00" lengthAdjust="spacingAndGlyphs">θ</text>
<text class="sub it" x="554.60" y="134.00" textLength="4.80" lengthAdjust="spacingAndGlyphs">v</text>
<text class="lg it" x="547.00" y="147.60" textLength="8.20" lengthAdjust="spacingAndGlyphs">ψ</text>
<text class="sub it" x="555.60" y="149.40" textLength="4.80" lengthAdjust="spacingAndGlyphs">v</text>
<rect x="60.20" y="291.20" width="43.70" height="52.00" fill="#fff" stroke="#111" stroke-width="0.85"/>
<path d="M64.10 301.25 H85.70" stroke="#000" stroke-width="1.50" fill="none"/>
<path d="M64.10 317.00 H85.70" stroke="#000" stroke-width="1.50" stroke-dasharray="4.3 3.2" fill="none"/>
<path d="M64.10 332.60 H85.70" stroke="#000" stroke-width="1.50" stroke-dasharray="1.7 1.8" fill="none"/>
<text class="lg it" x="90.00" y="305.30" textLength="6.00" lengthAdjust="spacingAndGlyphs">θ</text>
<text class="lg it" x="88.50" y="320.60" textLength="8.20" lengthAdjust="spacingAndGlyphs">ψ</text>
<text class="lg it" x="89.60" y="336.20" textLength="7.40" lengthAdjust="spacingAndGlyphs">ϕ</text>
<rect x="511.40" y="301.60" width="49.70" height="29.40" fill="#fff" stroke="#111" stroke-width="0.85"/>
<path d="M515.25 310.00 H536.80" stroke="#000" stroke-width="1.50" stroke-dasharray="4.3 3.2" fill="none"/>
<path d="M515.25 322.75 H536.80" stroke="#000" stroke-width="1.50" fill="none"/>
<text class="lg it" x="540.20" y="312.30" textLength="7.80" lengthAdjust="spacingAndGlyphs">ω</text>
<text class="sub it" x="548.60" y="314.10" textLength="5.50" lengthAdjust="spacingAndGlyphs">x</text>
<text class="lg it" x="540.20" y="325.00" textLength="7.80" lengthAdjust="spacingAndGlyphs">ω</text>
<text class="sub it" x="548.60" y="326.80" textLength="4.90" lengthAdjust="spacingAndGlyphs">y</text>
</svg></body></html>
